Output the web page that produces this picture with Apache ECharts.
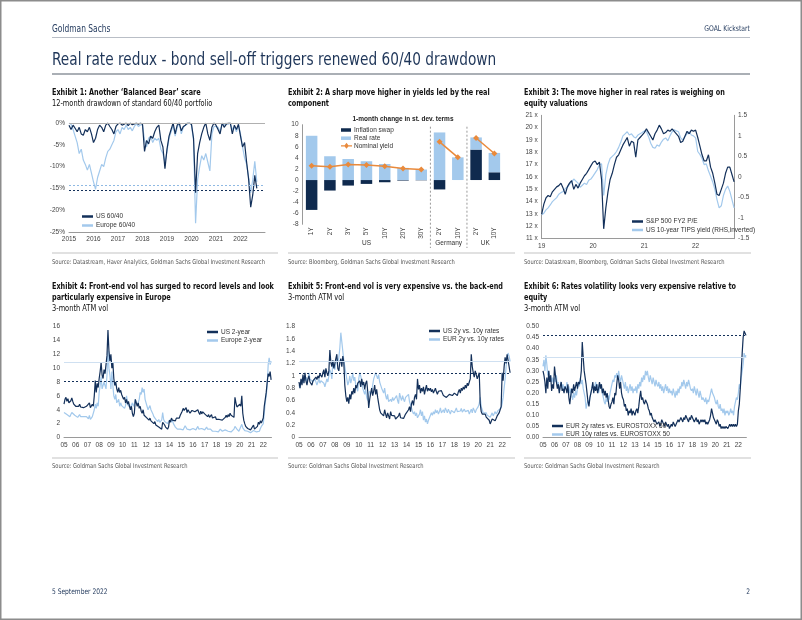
<!DOCTYPE html>
<html><head><meta charset="utf-8">
<script src="https://cdn.jsdelivr.net/npm/echarts@6/dist/echarts.min.js"></script>
<style>html,body{margin:0;padding:0;background:#fff}#c{width:802px;height:620px}</style>
</head><body><div id="c"></div>
<script>
// ===================== DATA =====================
// Exhibit 1: 12-month drawdown (%), monthly from Jan 2015
const C1_START = 2015;
const US_6040 = [
 -0.5,-1.5,-0.5,-1.2,-2.0,-1.0,-2.5,-2.8,-1.5,-2.0,-1.0,-2.5,
 -4.5,-3.5,-1.5,-0.5,-1.0,-2.0,-0.5,0,-0.8,-1.5,-2.5,-0.8,
 -0.2,0,-0.5,-0.3,0,-0.6,0,-0.4,-0.2,0,-0.3,0,
 -0.3,-6.5,-4.0,-4.8,-3.0,-3.5,-2.0,-1.0,-0.5,-4.0,-5.5,-10.5,
 -6.0,-3.0,-1.5,0,-2.5,-0.5,0,-1.8,-0.8,-0.5,0,0,
 -0.3,-3.5,-16.0,-7.0,-4.5,-2.5,-1.0,0,-2.5,-4.0,-1.0,0,
 -0.5,-1.5,-2.5,0,-1.0,-0.3,0,0,-2.5,-0.5,-1.5,-0.3,
 -3.0,-5.5,-4.5,-9.0,-13.0,-19.3,-16.5,-12.0,-15.0];
const EU_6040 = [
 0,-0.3,-1.5,-3.0,-4.5,-7.0,-6.0,-8.5,-9.5,-10.8,-9.5,-11.5,
 -13.5,-15.2,-12.5,-11.0,-9.5,-10.0,-8.0,-6.5,-6.0,-5.0,-4.0,-2.0,
 -1.5,-2.5,-1.0,-1.5,-0.5,-1.5,-1.0,-1.8,-0.8,-0.2,-0.8,-0.4,
 -0.5,-4.0,-5.5,-3.5,-3.0,-4.5,-3.5,-4.0,-3.5,-6.0,-7.0,-9.0,
 -6.5,-3.5,-2.0,-0.5,-3.0,-1.0,0,-2.5,-1.0,-0.5,-0.2,0,
 -0.5,-4.0,-23.0,-13.0,-10.0,-7.5,-8.5,-7.0,-9.0,-11.0,-2.5,-0.8,
 -0.8,-1.0,-2.0,-0.3,-0.5,0,-0.3,0,-1.5,-0.8,-2.0,-0.5,
 -2.5,-5.5,-8.0,-9.5,-12.5,-16.0,-13.0,-8.8,-13.5];
const C1_REF_EU = -14.2, C1_REF_US = -15.4;

// Exhibit 2: 1-month change in st. dev. terms
const C2_TENORS = ['1Y','2Y','3Y','5Y','10Y','20Y','30Y','2Y','10Y','2Y','10Y'];
const C2_GROUPS = ['US','Germany','UK'];
const C2_GROUP_SIZES = [7,2,2];
const INFL_SWAP = [-5.4,-1.9,-1.0,-0.7,-0.4,-0.1,-0.05,-1.7,0,5.5,1.4];
const REAL_RATE = [8.0,4.3,3.8,3.4,2.9,2.2,1.9,8.6,4.1,2.2,3.5];
const NOMINAL   = [2.6,2.4,2.8,2.7,2.5,2.1,1.9,6.9,4.1,7.6,4.8];

// Exhibit 3: semi-monthly from Jan 2019
const C3_START = 2019;
const SPX_PE = [
 13.0,13.8,14.3,14.5,14.4,14.8,15.0,15.2,15.3,15.5,15.1,14.6,15.2,15.5,15.7,15.0,15.4,15.1,15.5,15.8,16.1,16.3,16.6,16.9,
 17.2,17.3,17.0,17.2,15.8,11.8,13.5,14.8,15.8,16.3,17.0,17.6,17.8,18.2,18.6,18.9,19.2,18.5,18.9,18.8,17.6,19.0,19.2,19.4,
 19.6,19.9,19.6,19.3,19.0,19.5,19.8,20.2,19.9,19.5,19.6,19.8,19.7,19.9,19.7,19.5,19.3,18.8,18.9,19.3,19.7,19.5,19.8,19.7,
 19.8,19.2,18.5,17.8,17.3,17.3,17.8,16.8,16.3,15.5,14.6,14.5,15.0,15.5,16.3,16.8,16.8,16.2,15.6];
const TIPS_INV = [
 -0.92,-0.88,-0.80,-0.75,-0.68,-0.60,-0.55,-0.50,-0.42,-0.38,-0.35,-0.28,-0.25,-0.18,-0.12,-0.05,-0.10,-0.15,-0.25,-0.20,-0.15,-0.18,-0.08,-0.05,
 0.02,0.10,0.18,0.30,0.32,-0.45,0.05,0.30,0.45,0.50,0.55,0.62,0.72,0.85,1.00,1.05,1.10,1.02,1.05,0.98,0.95,1.02,1.05,1.08,
 1.12,1.10,0.98,0.82,0.72,0.70,0.78,0.75,0.85,0.92,0.95,0.88,1.00,1.10,1.15,1.12,1.10,0.95,0.90,0.98,1.05,1.10,1.02,1.00,
 0.95,0.62,0.55,0.45,0.30,0.32,0.15,0.02,-0.12,-0.30,-0.55,-0.75,-0.70,-0.45,-0.30,-0.22,-0.35,-0.55,-0.75];

// Exhibits 4-6: monthly from Jan 2005
const VOL_START = 2005;
const US_2Y_VOL = [
 4.8,5.5,5.8,5.2,5.6,5.0,4.9,5.3,5.7,5.2,4.8,4.6,
 4.5,4.6,4.3,4.5,4.8,4.4,4.2,4.5,4.3,4.4,4.2,4.5,
 4.4,4.6,5.0,4.3,4.2,4.8,4.5,6.0,8.2,6.5,7.8,7.2,
 8.5,9.5,10.8,9.0,8.5,9.8,9.2,9.0,11.8,15.5,12.5,11.0,
 12.0,10.0,10.8,8.5,7.5,8.0,7.0,6.5,7.2,6.5,6.8,6.2,
 6.0,5.5,5.8,5.0,5.5,4.8,5.2,4.5,4.0,4.5,3.5,3.0,
 3.5,5.5,5.0,4.5,5.0,4.2,4.5,3.8,3.5,4.0,3.2,3.0,
 3.2,2.8,3.0,2.5,2.8,2.4,2.2,2.5,2.0,2.3,1.8,2.0,
 1.8,1.5,1.3,1.6,1.2,2.2,2.0,1.8,1.5,1.4,1.2,1.5,
 2.5,2.2,2.8,2.5,2.3,2.6,2.4,2.8,3.0,2.6,2.8,3.2,
 3.5,3.8,4.2,3.9,3.8,4.3,3.6,4.0,3.8,3.5,3.7,3.9,
 4.1,3.8,3.7,3.5,3.9,4.0,3.6,3.3,3.8,3.4,3.7,3.6,
 3.4,3.2,3.5,3.0,3.3,2.9,3.1,3.3,2.8,3.0,2.7,3.0,
 2.6,2.7,2.5,2.6,2.4,2.6,2.5,2.7,2.6,2.9,3.2,2.9,
 3.3,3.0,3.5,3.2,3.0,3.4,2.9,5.8,5.0,4.4,4.2,4.5,
 4.8,4.5,6.0,3.5,2.5,2.0,1.6,1.4,1.3,1.5,1.2,1.1,
 1.0,1.3,1.8,1.2,1.1,1.4,1.6,2.2,1.9,2.4,2.1,2.3,
 2.8,4.5,5.5,6.5,8.0,9.2,8.8,9.5,8.3];
const EU_2Y_VOL = [
 3.6,3.4,3.8,3.3,3.5,3.2,3.0,3.3,3.6,3.4,3.5,3.2,
 3.0,3.2,2.9,3.1,3.3,3.0,3.1,3.2,3.0,2.9,3.1,3.0,
 2.8,2.7,3.2,2.6,2.8,3.0,3.2,4.0,4.8,4.2,5.0,4.5,
 6.5,7.5,8.8,7.0,6.8,8.0,7.5,7.0,9.0,12.5,10.0,9.0,
 7.0,9.5,7.5,6.0,5.5,6.2,5.0,4.8,5.5,4.5,5.0,4.6,
 4.8,4.4,4.2,4.6,6.0,5.0,4.5,4.8,4.2,4.6,5.0,4.5,
 4.8,5.5,5.0,4.6,4.8,5.5,6.5,6.2,7.2,6.5,7.0,5.5,
 5.0,4.5,4.0,4.2,4.6,4.0,3.8,3.4,3.0,2.8,2.6,2.5,
 2.3,2.6,2.2,2.0,2.5,3.6,2.6,2.3,2.1,2.2,2.0,2.3,
 2.4,2.6,2.2,2.5,2.0,1.8,1.5,1.3,1.2,1.4,1.1,1.2,
 1.0,1.2,1.1,1.4,1.7,1.5,1.2,1.4,1.3,1.1,1.2,1.0,
 1.3,1.5,1.2,1.1,1.3,1.6,1.2,1.0,1.1,1.3,1.5,1.2,
 1.1,1.3,1.5,1.2,1.0,1.1,1.2,1.0,0.9,1.0,1.1,0.9,
 0.9,1.0,0.8,0.9,1.2,1.1,0.9,1.0,0.9,1.1,1.0,0.9,
 0.9,0.8,0.9,0.8,0.9,1.0,1.2,1.6,1.5,1.2,1.0,0.9,
 0.9,1.0,1.9,1.4,1.2,1.0,0.9,0.8,0.9,0.8,0.8,0.7,
 0.8,0.9,1.0,0.8,0.9,0.8,0.9,1.0,0.9,1.3,1.6,1.5,
 2.0,3.5,5.0,6.0,7.5,10.5,11.5,10.5,11.0];
const C4_REF_US = 8.1, C4_REF_EU = 10.9;

const US_2S10S = [
 0.90,0.80,0.95,0.85,1.02,0.88,1.05,0.92,0.85,0.95,1.00,0.90,
 0.88,0.85,0.92,0.95,0.90,0.98,0.94,1.00,0.96,1.03,1.05,0.98,
 1.05,1.10,0.98,1.12,1.05,1.00,1.08,1.42,1.22,1.15,1.25,1.12,
 1.15,1.28,1.35,1.12,1.08,1.22,1.28,1.15,1.32,1.22,0.85,0.68,
 0.58,0.65,0.55,0.70,0.62,0.75,0.70,0.80,0.72,0.85,0.80,0.88,
 0.85,0.92,0.82,0.95,0.85,0.90,0.78,0.88,0.92,0.75,0.48,0.62,
 0.72,0.80,0.68,0.75,0.85,0.70,0.78,0.65,0.55,0.45,0.40,0.38,
 0.42,0.35,0.45,0.38,0.32,0.40,0.35,0.30,0.42,0.36,0.33,0.38,
 0.35,0.30,0.33,0.28,0.35,0.40,0.32,0.30,0.35,0.31,0.34,0.38,
 0.40,0.35,0.45,0.50,0.42,0.55,0.60,0.52,0.65,0.70,0.62,0.95,
 0.78,0.85,0.72,0.80,0.75,0.82,0.70,0.78,0.85,0.75,0.80,0.76,
 0.80,0.74,0.78,0.72,0.76,0.80,0.74,0.70,0.75,0.78,0.72,0.76,
 0.72,0.68,0.66,0.70,0.65,0.68,0.64,0.70,0.67,0.72,0.68,0.70,
 0.72,0.70,0.75,0.68,0.74,0.78,0.72,0.80,0.76,0.82,0.78,0.85,
 0.80,0.88,0.84,0.90,0.95,1.35,1.15,1.05,0.98,1.08,1.02,0.95,
 1.00,1.05,0.55,0.42,0.38,0.40,0.35,0.38,0.33,0.36,0.30,0.28,
 0.22,0.25,0.30,0.28,0.32,0.27,0.30,0.35,0.33,0.40,0.45,0.50,
 1.05,0.92,1.15,1.30,1.20,1.35,1.25,1.28,1.05];
const EUR_2S10S = [
 0.85,0.80,0.90,0.95,0.88,1.00,0.92,0.98,0.90,0.95,1.05,0.95,
 0.92,0.98,0.90,0.88,0.95,0.92,0.85,0.90,0.95,0.88,0.92,0.95,
 0.90,0.88,0.82,0.85,0.95,0.90,0.92,1.10,1.05,0.95,1.25,1.15,
 1.10,1.20,1.28,1.22,1.30,1.45,1.70,1.55,1.40,1.25,1.15,1.05,
 0.95,0.85,0.90,1.00,0.88,0.95,1.05,0.92,0.98,0.85,0.80,0.75,
 0.95,1.05,1.00,0.90,0.80,0.75,0.70,0.78,0.65,0.60,0.70,0.75,
 0.70,0.75,0.85,0.95,1.00,1.05,1.08,0.95,1.02,0.90,0.85,0.80,
 0.78,0.72,0.80,0.68,0.62,0.70,0.58,0.55,0.62,0.58,0.65,0.60,
 0.58,0.62,0.68,0.60,0.55,0.72,0.65,0.60,0.68,0.62,0.58,0.65,
 0.68,0.62,0.70,0.58,0.55,0.48,0.42,0.38,0.42,0.35,0.40,0.32,
 0.30,0.38,0.45,0.35,0.42,0.28,0.35,0.25,0.30,0.22,0.28,0.32,
 0.35,0.40,0.36,0.42,0.38,0.45,0.40,0.44,0.38,0.42,0.48,0.40,
 0.42,0.45,0.40,0.48,0.44,0.40,0.46,0.42,0.38,0.44,0.47,0.42,
 0.40,0.44,0.48,0.42,0.45,0.40,0.43,0.47,0.41,0.44,0.46,0.42,
 0.45,0.40,0.44,0.38,0.42,0.46,0.40,0.48,0.44,0.40,0.45,0.48,
 0.50,0.55,0.65,0.50,0.45,0.40,0.42,0.38,0.40,0.36,0.38,0.35,
 0.33,0.36,0.40,0.35,0.38,0.42,0.38,0.40,0.44,0.42,0.46,0.48,
 0.55,0.65,0.80,0.95,1.15,1.30,1.37,1.32,1.24];
const C5_REF_US = 1.04, C5_REF_EU = 1.24;

const EUR2_VS_SX5E = [
 0.30,0.28,0.25,0.20,0.27,0.22,0.30,0.25,0.28,0.21,0.24,0.22,
 0.32,0.28,0.25,0.22,0.24,0.20,0.23,0.25,0.21,0.22,0.20,0.23,
 0.22,0.20,0.24,0.18,0.15,0.19,0.22,0.20,0.24,0.21,0.23,0.25,
 0.22,0.25,0.24,0.26,0.30,0.43,0.36,0.30,0.27,0.24,0.20,0.16,
 0.14,0.18,0.20,0.22,0.25,0.20,0.23,0.21,0.24,0.20,0.22,0.25,
 0.22,0.24,0.20,0.22,0.19,0.21,0.18,0.20,0.17,0.14,0.13,0.15,
 0.16,0.18,0.15,0.20,0.19,0.24,0.28,0.26,0.22,0.25,0.20,0.18,
 0.17,0.14,0.15,0.12,0.13,0.10,0.12,0.11,0.13,0.10,0.12,0.11,
 0.10,0.12,0.13,0.11,0.14,0.18,0.21,0.17,0.18,0.16,0.15,0.17,
 0.16,0.15,0.13,0.12,0.10,0.11,0.09,0.08,0.07,0.08,0.07,0.06,
 0.06,0.07,0.05,0.06,0.08,0.07,0.06,0.05,0.07,0.06,0.05,0.06,
 0.04,0.05,0.06,0.05,0.07,0.06,0.05,0.06,0.07,0.08,0.07,0.08,
 0.09,0.08,0.07,0.09,0.08,0.10,0.09,0.08,0.07,0.09,0.08,0.10,
 0.09,0.08,0.07,0.08,0.09,0.07,0.08,0.06,0.07,0.08,0.07,0.08,
 0.07,0.08,0.06,0.07,0.06,0.07,0.08,0.10,0.13,0.11,0.09,0.08,
 0.07,0.06,0.08,0.07,0.05,0.06,0.04,0.05,0.04,0.05,0.04,0.05,
 0.05,0.04,0.05,0.06,0.05,0.06,0.05,0.06,0.05,0.06,0.05,0.06,
 0.12,0.15,0.22,0.30,0.38,0.45,0.48,0.47,0.46];
const EUR10_VS_SX5E = [
 0.32,0.35,0.30,0.37,0.33,0.28,0.30,0.26,0.28,0.25,0.27,0.24,
 0.27,0.25,0.28,0.23,0.25,0.21,0.23,0.25,0.22,0.24,0.21,0.23,
 0.22,0.25,0.21,0.23,0.20,0.22,0.19,0.17,0.20,0.18,0.21,0.19,
 0.22,0.25,0.23,0.27,0.24,0.26,0.22,0.20,0.18,0.13,0.15,0.17,
 0.15,0.18,0.20,0.22,0.24,0.21,0.23,0.25,0.22,0.24,0.20,0.22,
 0.24,0.22,0.20,0.18,0.16,0.15,0.18,0.16,0.19,0.17,0.20,0.22,
 0.24,0.26,0.25,0.28,0.27,0.29,0.26,0.30,0.27,0.25,0.28,0.26,
 0.24,0.22,0.25,0.21,0.23,0.20,0.22,0.24,0.21,0.23,0.20,0.22,
 0.21,0.23,0.20,0.24,0.22,0.25,0.23,0.27,0.25,0.28,0.26,0.30,
 0.28,0.30,0.27,0.25,0.28,0.26,0.24,0.27,0.25,0.23,0.26,0.24,
 0.23,0.25,0.22,0.24,0.21,0.23,0.20,0.22,0.24,0.21,0.23,0.20,
 0.22,0.20,0.21,0.19,0.22,0.20,0.18,0.21,0.19,0.22,0.20,0.23,
 0.22,0.25,0.23,0.26,0.24,0.22,0.25,0.23,0.26,0.24,0.22,0.21,
 0.22,0.20,0.23,0.21,0.19,0.22,0.20,0.18,0.21,0.19,0.17,0.18,
 0.17,0.16,0.18,0.15,0.17,0.16,0.18,0.20,0.22,0.20,0.19,0.18,
 0.16,0.15,0.17,0.14,0.13,0.15,0.12,0.13,0.11,0.13,0.10,0.12,
 0.11,0.12,0.10,0.11,0.13,0.11,0.12,0.10,0.14,0.16,0.18,0.17,
 0.20,0.24,0.22,0.27,0.30,0.33,0.38,0.36,0.37];
const C6_REF_2Y = 0.46, C6_REF_10Y = 0.365;

// ===================== STYLE =====================
const NARROW = '"Liberation Sans Narrow","Arial Narrow","DejaVu Sans Condensed",sans-serif';
const ARIAL = '"Liberation Sans",Arial,sans-serif';
const DARK = '#13305a', LIGHT = '#a3c9ec', ORANGE = '#e98a3c', NAVY = '#243b5e';
const AXC = '#9a9a9a';

const monthly = (start, arr) => arr.map((v, i) => [start + i / 12, v]);
const semi = (start, arr) => arr.map((v, i) => [start + i / 24, v]);

const lbl = (extra) => Object.assign({fontSize: 6.5, color: '#444', fontFamily: ARIAL, margin: 4}, extra || {});
const yrFull = v => (Number.isInteger(v) && v < 2023) ? String(v) : '';
const yr2 = v => Number.isInteger(v) ? String(v).slice(2) : '';

function xVal(grid, min, max, fmt, showLine) {
  return {type: 'value', gridIndex: grid, min, max, interval: 1,
    axisLine: {show: showLine !== false, onZero: false, lineStyle: {color: AXC, width: 1}},
    axisTick: {show: false}, splitLine: {show: false}, axisLabel: lbl({formatter: fmt})};
}
function yVal(grid, min, max, interval, fmt, extra) {
  return Object.assign({type: 'value', gridIndex: grid, min, max, interval,
    axisLine: {show: false}, axisTick: {show: false}, splitLine: {show: false},
    axisLabel: lbl({formatter: fmt})}, extra || {});
}
function ln(name, xi, yi, data, color, z, mark) {
  const s = {type: 'line', name, xAxisIndex: xi, yAxisIndex: yi, data, symbol: 'none', showSymbol: false,
    lineStyle: {color, width: 1.2}, itemStyle: {color}, z, silent: true, animation: false};
  if (mark) s.markLine = {silent: true, symbol: 'none', label: {show: false}, animation: false, data: mark};
  return s;
}
const refLine = (y, color, dashed) => ({yAxis: y, lineStyle: {color, width: 1, type: dashed ? [2, 2] : 'solid'}});

// category keys for Exhibit 2 (unique), labels come from tenors
const C2_KEYS = C2_TENORS.map((t, i) => i + '_' + t);
let gStart = [];
{ let s = 0; C2_GROUP_SIZES.forEach(n => { gStart.push(s); s += n; }); }
const nominalSeg = g => NOMINAL.map((v, i) => (i >= gStart[g] && i < gStart[g] + C2_GROUP_SIZES[g]) ? v : null);

const legendBase = (data, left, top, extra) => Object.assign({
  data, left, top, orient: 'vertical', itemWidth: 11, itemHeight: 2.5, itemGap: 1.5, icon: 'rect',
  selectedMode: false, padding: 0, textStyle: {fontSize: 6.5, lineHeight: 7, color: '#333', fontFamily: ARIAL, padding: [0, 0, 0, -2]}
}, extra || {});
const NOMINAL_ICON = 'path://M0,2.4L4,2.4L6,0L8,2.4L12,2.4L12,3.6L8,3.6L6,6L4,3.6L0,3.6Z';

const chart = echarts.init(document.getElementById('c'), null, {renderer: 'canvas'});
const option = {
  animation: false,
  backgroundColor: '#fff',
  grid: [
    {left: 69, top: 123, width: 196, height: 109},
    {left: 302.5, top: 124.7, width: 201, height: 99.6},
    {left: 541.7, top: 115.3, width: 192.4, height: 123.4},
    {left: 64, top: 326.5, width: 207.5, height: 111},
    {left: 299, top: 326.5, width: 211.5, height: 111},
    {left: 543, top: 326.5, width: 203.4, height: 111}
  ],
  xAxis: [
    xVal(0, 2015, 2023, yrFull),
    {type: 'category', gridIndex: 1, data: C2_KEYS, axisLine: {show: false, onZero: false}, axisTick: {show: false},
      axisLabel: lbl({rotate: 90, interval: 0, margin: 3, formatter: (v, i) => C2_TENORS[i]})},
    xVal(2, 2019, 2022.75, yr2),
    xVal(3, 2005, 2022.7, yr2),
    xVal(4, 2005, 2022.7, yr2),
    xVal(5, 2005, 2022.7, yr2)
  ],
  yAxis: [
    yVal(0, -25, 0, 5, v => v + '%'),
    yVal(1, -8, 10, 2, v => String(v), {axisLine: {show: true, lineStyle: {color: AXC}}}),
    yVal(2, 11, 21, 1, v => v + ' x', {axisLine: {show: true, lineStyle: {color: AXC}}}),
    yVal(2, -1.5, 1.5, 0.5, v => String(v), {position: 'right', axisLine: {show: true, lineStyle: {color: AXC}}}),
    yVal(3, 0, 16, 2, v => String(v)),
    yVal(4, 0, 1.8, 0.2, v => String(+v.toFixed(1))),
    yVal(5, 0, 0.5, 0.05, v => v.toFixed(2))
  ],
  legend: [
    legendBase(['US 60/40', 'Europe 60/40'], 82, 213, {itemGap: 2}),
    legendBase(['Inflation swap', 'Real rate'], 341, 126.5, {itemWidth: 10, itemHeight: 3.5, itemGap: 1.2}),
    legendBase(['Nominal yield'], 341, 142.3, {icon: NOMINAL_ICON, itemWidth: 11, itemHeight: 6, symbolKeepAspect: false,
      textStyle: {fontSize: 6.5, lineHeight: 7, color: '#333', fontFamily: ARIAL, padding: [0, 0, 0, -3]}}),
    legendBase(['S&P 500 FY2 P/E', 'US 10-year TIPS yield (RHS,inverted)'], 632, 218),
    legendBase(['US 2-year', 'Europe 2-year'], 207, 328.5),
    legendBase(['US 2y vs. 10y rates', 'EUR 2y vs. 10y rates'], 429, 327.5),
    legendBase(['EUR 2y rates vs. EUROSTOXX 50', 'EUR 10y rates vs. EUROSTOXX 50'], 552, 422.5)
  ],
  series: [
    // Exhibit 1
    ln('Europe 60/40', 0, 0, monthly(C1_START, EU_6040), LIGHT, 2, [refLine(C1_REF_EU, '#8fb9e3', true), refLine(0, '#b0b0b0', false)]),
    ln('US 60/40', 0, 0, monthly(C1_START, US_6040), DARK, 3, [refLine(C1_REF_US, DARK, true)]),
    // Exhibit 2
    {type: 'bar', name: 'Inflation swap', xAxisIndex: 1, yAxisIndex: 1, stack: 'c2', data: INFL_SWAP, barWidth: '63%',
      itemStyle: {color: '#0f2a4e'}, silent: true},
    {type: 'bar', name: 'Real rate', xAxisIndex: 1, yAxisIndex: 1, stack: 'c2', data: REAL_RATE, barWidth: '63%',
      itemStyle: {color: LIGHT}, silent: true},
    ...C2_GROUPS.map((g, gi) => ({type: 'line', name: 'Nominal yield', xAxisIndex: 1, yAxisIndex: 1, data: nominalSeg(gi),
      symbol: 'diamond', symbolSize: 6, connectNulls: false, lineStyle: {color: ORANGE, width: 1.5},
      itemStyle: {color: ORANGE}, z: 5, silent: true})),
    // Exhibit 3
    ln('US 10-year TIPS yield (RHS,inverted)', 2, 3, semi(C3_START, TIPS_INV), LIGHT, 2),
    ln('S&P 500 FY2 P/E', 2, 2, semi(C3_START, SPX_PE), DARK, 3),
    // Exhibit 4
    ln('Europe 2-year', 3, 4, monthly(VOL_START, EU_2Y_VOL), LIGHT, 2, [refLine(C4_REF_EU, '#cfe0f1', false)]),
    ln('US 2-year', 3, 4, monthly(VOL_START, US_2Y_VOL), DARK, 3, [refLine(C4_REF_US, DARK, true)]),
    // Exhibit 5
    ln('EUR 2y vs. 10y rates', 4, 5, monthly(VOL_START, EUR_2S10S), LIGHT, 2, [refLine(C5_REF_EU, '#cfe0f1', false)]),
    ln('US 2y vs. 10y rates', 4, 5, monthly(VOL_START, US_2S10S), DARK, 3, [refLine(C5_REF_US, DARK, true)]),
    // Exhibit 6
    ln('EUR 10y rates vs. EUROSTOXX 50', 5, 6, monthly(VOL_START, EUR10_VS_SX5E), LIGHT, 2, [refLine(C6_REF_10Y, '#cfe0f1', false)]),
    ln('EUR 2y rates vs. EUROSTOXX 50', 5, 6, monthly(VOL_START, EUR2_VS_SX5E), DARK, 3, [refLine(C6_REF_2Y, DARK, true)])
  ]
};
chart.setOption(option);

// ===================== PAGE TEXT & RULES =====================
const G = [];
const SX = 0.87;
const T = (x, y, text, font, fill, align, sx) => G.push({type: 'text', silent: true, x, y, scaleX: sx == null ? SX : sx,
  style: {x: 0, y: 0, text, font, fill, align: align || 'left', verticalAlign: 'middle'}});
const L = (x1, y1, x2, y2, stroke, w, dash) => G.push({type: 'line', silent: true, shape: {x1, y1, x2, y2}, style: {stroke, lineWidth: w || 1, lineDash: dash || null}});

G.push({type: 'rect', silent: true, shape: {x: 0.75, y: 0.75, width: 800.5, height: 618.5}, style: {fill: 'none', stroke: '#8c8c8c', lineWidth: 1.5}});
T(52, 29, 'Goldman Sachs', `9.6px ${NARROW}`, NAVY);
T(750, 29, 'GOAL Kickstart', `7.8px ${NARROW}`, NAVY, 'right');
L(52, 37.5, 750, 37.5, '#b9bec6', 1);
T(52, 60, 'Real rate redux - bond sell-off triggers renewed 60/40 drawdown', `17.5px ${NARROW}`, '#1e3558');
L(52, 74, 750, 74, '#8e949d', 1.5);

const BOLD = `bold 8.3px ${NARROW}`, REG = `8.5px ${NARROW}`, TXT = '#111';
T(52, 92.5, 'Exhibit 1: Another ‘Balanced Bear’ scare', BOLD, TXT);
T(52, 104, '12-month drawdown of standard 60/40 portfolio', REG, TXT);
T(288, 92.5, 'Exhibit 2: A sharp move higher in yields led by the real', BOLD, TXT);
T(288, 104, 'component', BOLD, TXT);
T(524, 92.5, 'Exhibit 3: The move higher in real rates is weighing on', BOLD, TXT);
T(524, 104, 'equity valuations', BOLD, TXT);
T(52, 287, 'Exhibit 4: Front-end vol has surged to record levels and look', BOLD, TXT);
T(52, 298, 'particularly expensive in Europe', BOLD, TXT);
T(52, 309, '3-month ATM vol', REG, TXT);
T(288, 287, 'Exhibit 5: Front-end vol is very expensive vs. the back-end', BOLD, TXT);
T(288, 298, '3-month ATM vol', REG, TXT);
T(524, 287, 'Exhibit 6: Rates volatility looks very expensive relative to', BOLD, TXT);
T(524, 298, 'equity', BOLD, TXT);
T(524, 309, '3-month ATM vol', REG, TXT);

const SRC = `6.6px ${NARROW}`, SRCC = '#555';
[[52, 278], [288, 515], [524, 751]].forEach(([a, b]) => { L(a, 253, b, 253, '#c3c3c3', 1); L(a, 458, b, 458, '#c3c3c3', 1); });
T(52, 262, 'Source: Datastream, Haver Analytics, Goldman Sachs Global Investment Research', SRC, SRCC);
T(288, 262, 'Source: Bloomberg, Goldman Sachs Global Investment Research', SRC, SRCC);
T(524, 262, 'Source: Datastream, Bloomberg, Goldman Sachs Global Investment Research', SRC, SRCC);
T(52, 466, 'Source: Goldman Sachs Global Investment Research', SRC, SRCC);
T(288, 466, 'Source: Goldman Sachs Global Investment Research', SRC, SRCC);
T(524, 466, 'Source: Goldman Sachs Global Investment Research', SRC, SRCC);

T(52, 592, '5 September 2022', `7.6px ${NARROW}`, NAVY);
T(750, 592, '2', `7.6px ${NARROW}`, NAVY, 'right');

// Exhibit 2 inner title, group labels and separators (positions from the category axis)
const cx = i => chart.convertToPixel({xAxisIndex: 1}, i);
const topPx = chart.convertToPixel({yAxisIndex: 1}, 10);
const left2 = chart.convertToPixel({xAxisIndex: 1}, 0), right2 = chart.convertToPixel({xAxisIndex: 1}, C2_TENORS.length - 1);
T((left2 + right2) / 2, 119, '1-month change in st. dev. terms', `bold 6.5px ${ARIAL}`, '#222', 'center', 1);
C2_GROUPS.forEach((g, gi) => {
  const a = gStart[gi], b = a + C2_GROUP_SIZES[gi] - 1;
  T((cx(a) + cx(b)) / 2, 243, g, `6.5px ${ARIAL}`, '#333', 'center', 1);
  if (gi > 0) {
    const xb = (cx(a - 1) + cx(a)) / 2;
    L(xb, topPx + 2, xb, 248, '#9a9a9a', 1, [2, 2]);
  }
});
chart.setOption({graphic: G});
</script></body></html>
